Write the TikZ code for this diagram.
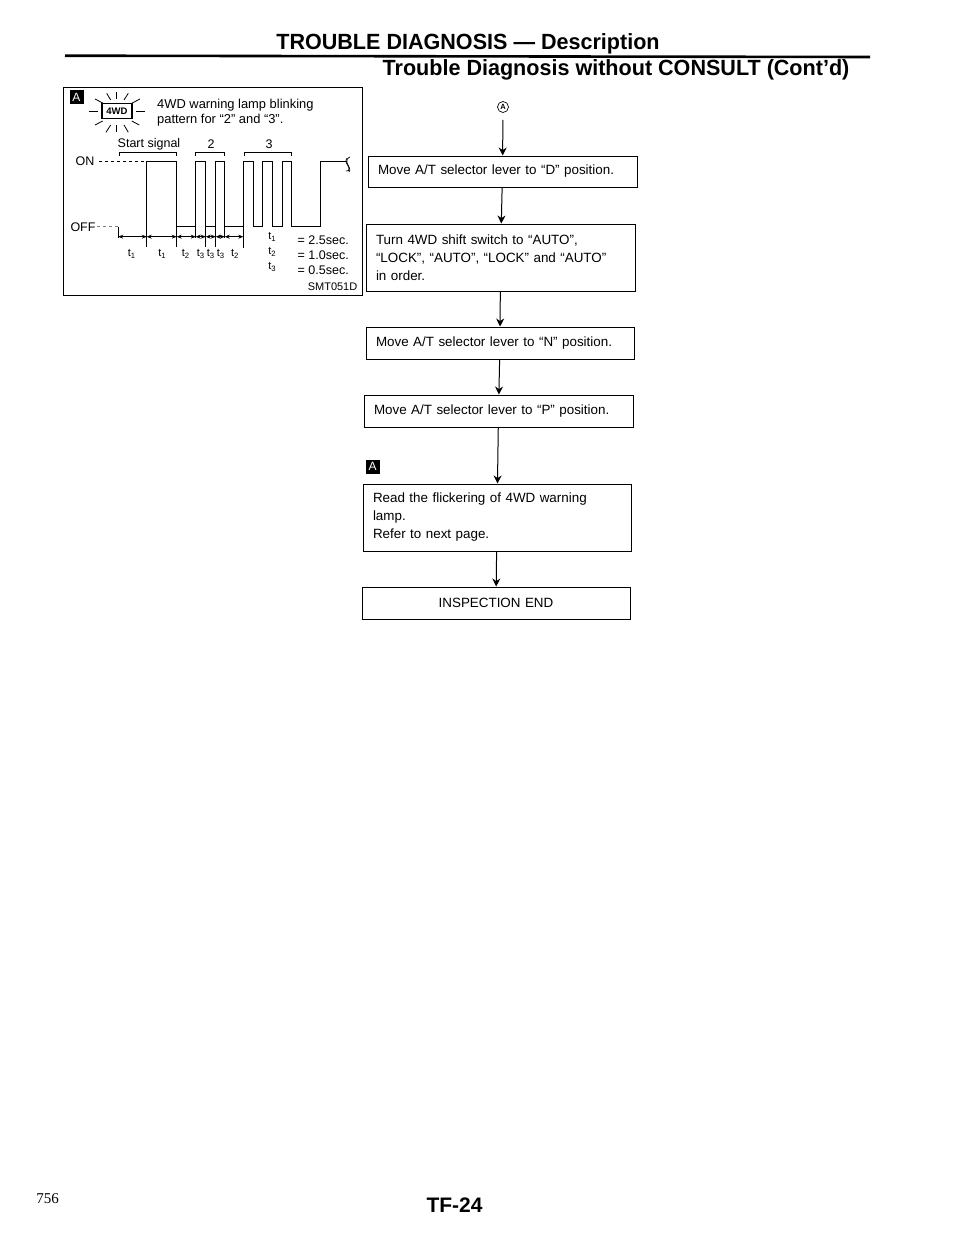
\documentclass[tikz,border=0pt]{standalone}
\usepackage{fontspec}
\setmainfont{Liberation Sans}
\newfontfamily\pagenofont{Liberation Serif}
\usetikzlibrary{arrows.meta, calc}

\begin{document}
\begin{tikzpicture}[
    x=1pt, y=-1pt,
    >=Stealth,
    flowtext/.style={font=\fontsize{13.4}{18}\selectfont},
    flowbox/.style={draw, line width=1pt, flowtext, align=left, inner xsep=10pt, inner ysep=0pt},
    flowarrow/.style={line width=1pt, -{Stealth[length=8pt, width=8pt]}},
    sigtext/.style={font=\fontsize{11}{13}\selectfont, inner sep=0pt},
    sigbig/.style={font=\fontsize{12.5}{14}\selectfont, inner sep=0pt},
    lamptext/.style={font=\fontsize{12.9}{14}\selectfont, inner sep=0pt, anchor=west},
    keysquare/.style={fill=black, text=white, font=\fontsize{12}{12}\selectfont, inner sep=0pt, minimum width=14pt, minimum height=14pt},
    wave/.style={line width=0.9pt},
    dimline/.style={line width=0.7pt},
    dimtip/.style={{Stealth[length=5pt, width=4pt]}-{Stealth[length=5pt, width=4pt]}, line width=0.7pt},
    headfont/.style={font=\bfseries\fontsize{22}{22}\selectfont, xscale=0.98, inner sep=0pt}
]

    % === DEFINITIONS & COORDINATES ===
    \useasboundingbox (0,0) rectangle (960,1242);
    \def\yOn{161.7}    % High level of the signal
    \def\yOff{226.7}   % Low level of the signal
    \def\yDim{236.7}   % Dimension line under the signal
    \def\yLab{254}     % Row of the time labels

    % === 1. PAGE HEADER ===
    \node[headfont] (titleMain) at (468,44) {TROUBLE DIAGNOSIS --- Description};
    \node[headfont] (titleSub) at (616,70) {Trouble Diagnosis without CONSULT (Cont’d)};
    \draw[line width=2.6pt] (65,55.7) -- (870,57);

    % === 2. LEFT PANEL ===
    \draw[line width=1pt] (63,87) rectangle (362,295);
    \node[keysquare] (keyOne) at (76.5,97) {A};

    % Lamp with its rays
    \node[draw, line width=1.1pt, font=\bfseries\fontsize{9.5}{10}\selectfont, minimum width=30pt, minimum height=15pt, inner sep=0pt] (lampBox) at (117,111) {4WD};
    \foreach \xa/\ya/\xb/\yb in {116.7/91.7/116.7/99, 106.7/93.3/110.7/100, 128.3/93.3/124/100,
        95/99/103.3/103.3, 140/99/131.7/103.3, 89.3/111.7/98.3/111.7, 136/111.7/145/111.7,
        95/125/102.7/121, 139.3/125/131.7/121, 106/132.3/110.7/125, 116.7/132/116.7/125, 128.3/132.3/124/125}
        \draw[line width=0.8pt] (\xa,\ya) -- (\xb,\yb);

    \node[lamptext] (lampOne) at (157,105) {4WD warning lamp blinking};
    \node[lamptext] (lampTwo) at (157,120) {pattern for “2” and “3”.};

    % Group labels and brackets
    \node[sigbig] (groupStart) at (149,144) {Start signal};
    \node[sigbig] (groupTwo) at (211,144) {2};
    \node[sigbig] (groupThree) at (269,144) {3};
    \foreach \xa/\xb in {119.3/176.7, 195.7/224.7, 244.3/291.7}
        \draw[line width=0.7pt] (\xa,156) -- (\xa,152) -- (\xb,152) -- (\xb,156);

    \node[sigbig] (sigOn) at (85,161) {ON};
    \node[sigbig] (sigOff) at (83,227) {OFF};
    \draw[wave, dashed] (99,\yOn) -- (146.7,\yOn);
    \draw[line width=0.5pt, dashed, gray] (97,\yOff) -- (118.3,\yOff);

    % Signal trace
    \draw[wave] (146.7,\yOff) -- (146.7,\yOn) -- (176.7,\yOn) -- (176.7,\yOff) -- (195.7,\yOff)
        -- (195.7,\yOn) -- (205.7,\yOn) -- (205.7,\yOff) -- (215.7,\yOff) -- (215.7,\yOn) -- (224.7,\yOn)
        -- (224.7,\yOff) -- (243.3,\yOff) -- (243.3,\yOn) -- (253.3,\yOn) -- (253.3,\yOff) -- (262.7,\yOff)
        -- (262.7,\yOn) -- (272.7,\yOn) -- (272.7,\yOff) -- (282.7,\yOff) -- (282.7,\yOn) -- (291.3,\yOn)
        -- (291.3,\yOff) -- (320.7,\yOff) -- (320.7,\yOn) -- (347,\yOn);
    % Break mark at the end of the trace
    \draw[line width=0.7pt] (347,158) .. controls (344,161) and (348,165) .. (349,168) .. controls (349.5,170) and (348,172) .. (346,171);
    \draw[line width=0.7pt] (350,157) .. controls (347,158) and (346,161) .. (347,163) .. controls (349,167) and (351,170) .. (349,172);

    % Ticks and dimension arrows
    \foreach \xa/\yb in {118.3/238, 146.7/247, 176.7/247, 195.7/238, 205.7/247, 215.7/247, 224.7/238, 243.3/248}
        \draw[dimline] (\xa,\yOff) -- (\xa,\yb);
    \foreach \xa/\xb in {118.3/146.7, 146.7/176.7, 176.7/195.7, 195.7/205.7, 205.7/215.7, 215.7/224.7, 224.7/243.3}
        \draw[dimtip] (\xa,\yDim) -- (\xb,\yDim);

    % Time labels
    \node[sigtext] (labA) at (131.7,\yLab) {t\textsubscript{1}};
    \node[sigtext] (labB) at (162.3,\yLab) {t\textsubscript{1}};
    \node[sigtext] (labC) at (185.7,\yLab) {t\textsubscript{2}};
    \node[sigtext] (labD) at (200.7,\yLab) {t\textsubscript{3}};
    \node[sigtext] (labE) at (210.7,\yLab) {t\textsubscript{3}};
    \node[sigtext] (labF) at (220.7,\yLab) {t\textsubscript{3}};
    \node[sigtext] (labG) at (235,\yLab) {t\textsubscript{2}};

    % Timing table
    \node[sigtext] (keyTOne) at (272.3,237) {t\textsubscript{1}};
    \node[sigtext] (keyTTwo) at (272.3,252) {t\textsubscript{2}};
    \node[sigtext] (keyTThree) at (272.3,267) {t\textsubscript{3}};
    \node[sigbig, anchor=east] (valOne) at (349,240) {= 2.5sec.};
    \node[sigbig, anchor=east] (valTwo) at (349,255) {= 1.0sec.};
    \node[sigbig, anchor=east] (valThree) at (349,270) {= 0.5sec.};
    \node[sigtext, anchor=east] (figCode) at (357.5,286.5) {SMT051D};

    % === 3. FLOW CHART ===
    \node[draw, circle, line width=0.7pt, font=\bfseries\fontsize{7.5}{8}\selectfont, inner sep=0pt, minimum size=11pt] (markA) at (503,107) {A};
    \node[flowbox, text width=249pt, minimum height=31pt] (boxD) at (502.5,171.5) {Move A/T selector lever to “D” position.};
    \node[flowbox, text width=249pt, minimum height=67pt] (boxTurn) at (500.5,257.5) {Turn 4WD shift switch to “AUTO”,\\“LOCK”, “AUTO”, “LOCK” and “AUTO”\\in order.};
    \node[flowbox, text width=248pt, minimum height=32pt] (boxN) at (500,343) {Move A/T selector lever to “N” position.};
    \node[flowbox, text width=249pt, minimum height=32pt] (boxP) at (498.5,411) {Move A/T selector lever to “P” position.};
    \node[keysquare] (keyTwo) at (372.5,466.5) {A};
    \node[flowbox, text width=248pt, minimum height=67pt] (boxRead) at (497,517.5) {Read the flickering of 4WD warning\\lamp.\\Refer to next page.};
    \node[flowbox, text width=248pt, minimum height=32pt, align=center] (boxEnd) at (496,603) {INSPECTION END};

    \draw[flowarrow, shorten <=7pt] (markA) -- (boxD);
    \draw[flowarrow] (boxD) -- (boxTurn);
    \draw[flowarrow] (boxTurn) -- (boxN);
    \draw[flowarrow] (boxN) -- (boxP);
    \draw[flowarrow] (boxP) -- (boxRead);
    \draw[flowarrow] (boxRead) -- (boxEnd);

    % === 4. PAGE FOOTER ===
    \node[font=\pagenofont\fontsize{15}{15}\selectfont, inner sep=0pt, anchor=east] (pageNo) at (59,1199) {756};
    \node[font=\bfseries\fontsize{21}{21}\selectfont, inner sep=0pt] (pageCode) at (454.5,1205) {TF-24};

\end{tikzpicture}
\end{document}
